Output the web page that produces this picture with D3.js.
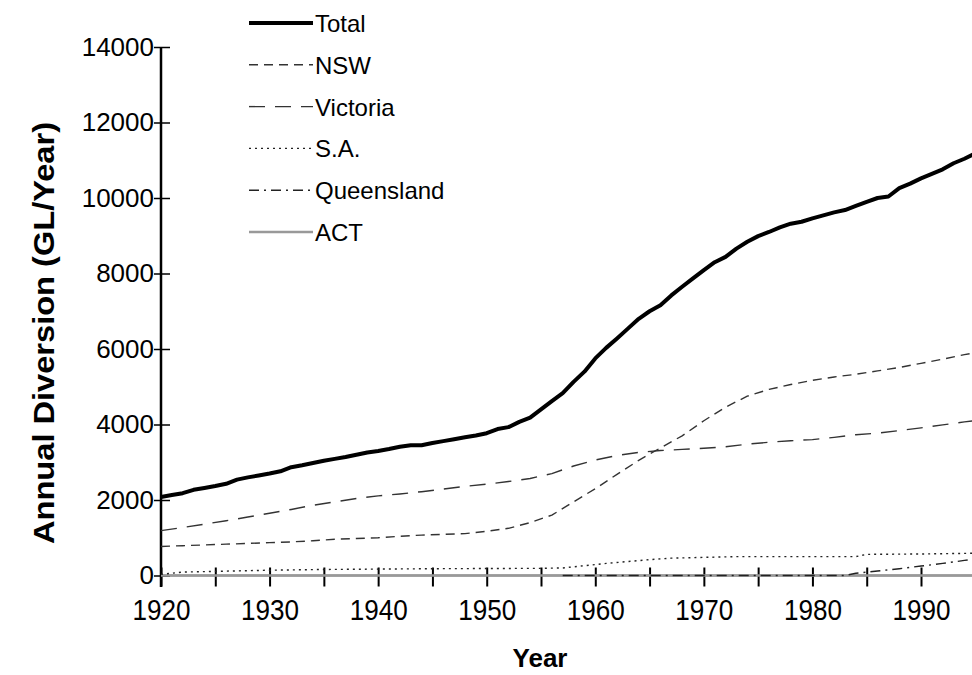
<!DOCTYPE html>
<html><head><meta charset="utf-8">
<script src="https://cdn.jsdelivr.net/npm/d3@7"></script>
<style>
html,body{margin:0;padding:0;background:#fff;}
svg{display:block;font-family:"Liberation Sans",Arial,sans-serif;}
</style></head>
<body>
<svg id="chart" width="972" height="675"></svg>
<script>
// ---- data ----
const totalYears = [1920,1921,1922,1923,1924,1925,1926,1927,1928,1929,1930,1931,1932,1933,1934,1935,1936,1937,1938,1939,1940,1941,1942,1943,1944,1945,1946,1947,1948,1949,1950,1951,1952,1953,1954,1955,1956,1957,1958,1959,1960,1961,1962,1963,1964,1965,1966,1967,1968,1969,1970,1971,1972,1973,1974,1975,1976,1977,1978,1979,1980,1981,1982,1983,1984,1985,1986,1987,1988,1989,1990,1991,1992,1993,1994,1995];
const totalValues = [2080,2130,2180,2270,2320,2370,2430,2540,2600,2650,2700,2760,2870,2920,2980,3040,3090,3140,3200,3260,3300,3350,3410,3450,3450,3510,3560,3610,3660,3710,3770,3880,3930,4070,4180,4400,4620,4830,5130,5400,5750,6030,6280,6540,6800,7000,7160,7420,7650,7870,8090,8300,8440,8660,8840,8990,9100,9220,9320,9370,9460,9540,9620,9680,9790,9900,10000,10040,10260,10380,10520,10640,10760,10920,11040,11180];

const nswYears = [1920,1922,1924,1926,1928,1930,1932,1934,1936,1938,1940,1942,1944,1946,1948,1950,1952,1954,1956,1958,1960,1962,1964,1966,1968,1970,1972,1974,1976,1978,1980,1982,1984,1986,1988,1990,1992,1994,1995];
const nswValues = [770,790,810,830,850,870,890,920,960,980,1000,1040,1070,1090,1110,1170,1250,1400,1600,1950,2300,2680,3050,3380,3700,4100,4460,4750,4930,5060,5170,5260,5330,5420,5510,5620,5730,5850,5900];

const vicYears = [1920,1922,1924,1926,1928,1930,1932,1934,1936,1938,1940,1942,1944,1946,1948,1950,1952,1954,1956,1958,1960,1962,1964,1966,1968,1970,1972,1974,1976,1978,1980,1982,1984,1986,1988,1990,1992,1994,1995];
const vicValues = [1190,1270,1360,1450,1550,1650,1750,1860,1950,2040,2110,2160,2220,2290,2360,2420,2490,2570,2700,2900,3060,3180,3260,3310,3340,3370,3410,3480,3530,3570,3600,3660,3730,3770,3840,3910,3990,4070,4100];

const saYears = [1920,1922,1925,1930,1935,1940,1945,1950,1955,1957,1959,1961,1963,1965,1967,1970,1973,1976,1980,1984,1985,1990,1995];
const saValues = [30,90,110,140,160,170,180,185,190,200,260,320,370,420,460,480,500,500,500,500,560,570,590];

const qldYears = [1957,1983,1984,1986,1988,1990,1992,1994,1995];
const qldValues = [0,0,60,120,180,250,320,400,440];

const actYears = [1920,1995];
const actValues = [0,0];

const seriesNames = ["Total","NSW","Victoria","S.A.","Queensland","ACT"];
const xTickYears = [1920,1925,1930,1935,1940,1945,1950,1955,1960,1965,1970,1975,1980,1985,1990];
const yTickValues = [0,2000,4000,6000,8000,10000,12000,14000];

// ---- styles ----
const styles = {
  "Total":      {stroke:"#000", width:4,   dash:null},
  "NSW":        {stroke:"#333", width:1.4, dash:"9,6"},
  "Victoria":   {stroke:"#333", width:1.4, dash:"16,10"},
  "S.A.":       {stroke:"#222", width:1.4, dash:"2,4"},
  "Queensland": {stroke:"#222", width:1.4, dash:"10,5,2,5"},
  "ACT":        {stroke:"#999", width:2.5, dash:null}
};
const seriesData = {
  "Total": totalYears.map((y,i)=>[y,totalValues[i]]),
  "NSW": nswYears.map((y,i)=>[y,nswValues[i]]),
  "Victoria": vicYears.map((y,i)=>[y,vicValues[i]]),
  "S.A.": saYears.map((y,i)=>[y,saValues[i]]),
  "Queensland": qldYears.map((y,i)=>[y,qldValues[i]]),
  "ACT": actYears.map((y,i)=>[y,actValues[i]])
};

const svg = d3.select("#chart");
svg.append("rect").attr("width",972).attr("height",675).attr("fill","#fff");

const x = d3.scaleLinear().domain([1920,1990]).range([161,921]);
const y = d3.scaleLinear().domain([0,14000]).range([575.5,47]);

// x axis
const xAxis = svg.append("g").attr("transform","translate(0,575.5)")
  .call(d3.axisBottom(x).tickValues(xTickYears).tickSize(11).tickPadding(14)
    .tickFormat(d => d % 10 === 0 ? d : ""));
xAxis.select(".domain").attr("stroke","#000").attr("stroke-width",1.5).attr("d","M161,0H972");
xAxis.selectAll(".tick line").attr("y1",-8).attr("stroke","#000").attr("stroke-width",2);
xAxis.selectAll(".tick text").attr("font-size",29).attr("fill","#000")
  .attr("font-family","'Liberation Sans',Arial,sans-serif").attr("y",24).attr("dy","0.71em")
  .attr("textLength",58).attr("lengthAdjust","spacingAndGlyphs");

// y axis
const yAxis = svg.append("g").attr("transform","translate(161,0)")
  .call(d3.axisLeft(y).tickValues(yTickValues).tickSize(7).tickPadding(0)
    .tickFormat(d3.format("d")));
yAxis.select(".domain").attr("stroke","#000").attr("stroke-width",2.5).attr("d","M0,47V587");
yAxis.selectAll(".tick line").attr("x2",9).attr("x1",-7).attr("stroke","#000").attr("stroke-width",1.5);
yAxis.selectAll(".tick text").attr("font-size",26).attr("fill","#000")
  .attr("font-family","'Liberation Sans',Arial,sans-serif").attr("x",-7);

// lines
const line = d3.line().x(d=>x(d[0])).y(d=>y(d[1]));
const drawOrder = ["ACT","Queensland","S.A.","Victoria","NSW","Total"];
drawOrder.forEach(name=>{
  const s = styles[name];
  svg.append("path").datum(seriesData[name])
    .attr("d",line).attr("fill","none")
    .attr("stroke",s.stroke).attr("stroke-width",s.width)
    .attr("stroke-dasharray",s.dash)
    .attr("stroke-linejoin","round");
});

// legend
const leg = svg.append("g");
seriesNames.forEach((name,i)=>{
  const yy = 23 + i*41.8;
  const s = styles[name];
  leg.append("line").attr("x1",249).attr("x2",313).attr("y1",yy).attr("y2",yy)
    .attr("stroke",s.stroke).attr("stroke-width",s.width).attr("stroke-dasharray",s.dash);
  leg.append("text").attr("x",315).attr("y",yy+9).attr("font-size",24).attr("fill","#000").text(name);
});

// axis titles
svg.append("text").attr("x",540).attr("y",667).attr("text-anchor","middle")
  .attr("font-size",26).attr("font-weight","bold").text("Year");
svg.append("text").attr("transform","translate(54,333) rotate(-90)").attr("text-anchor","middle")
  .attr("font-size",29).attr("font-weight","bold")
  .attr("textLength",422).attr("lengthAdjust","spacingAndGlyphs")
  .text("Annual Diversion (GL/Year)");
</script>
</body></html>
